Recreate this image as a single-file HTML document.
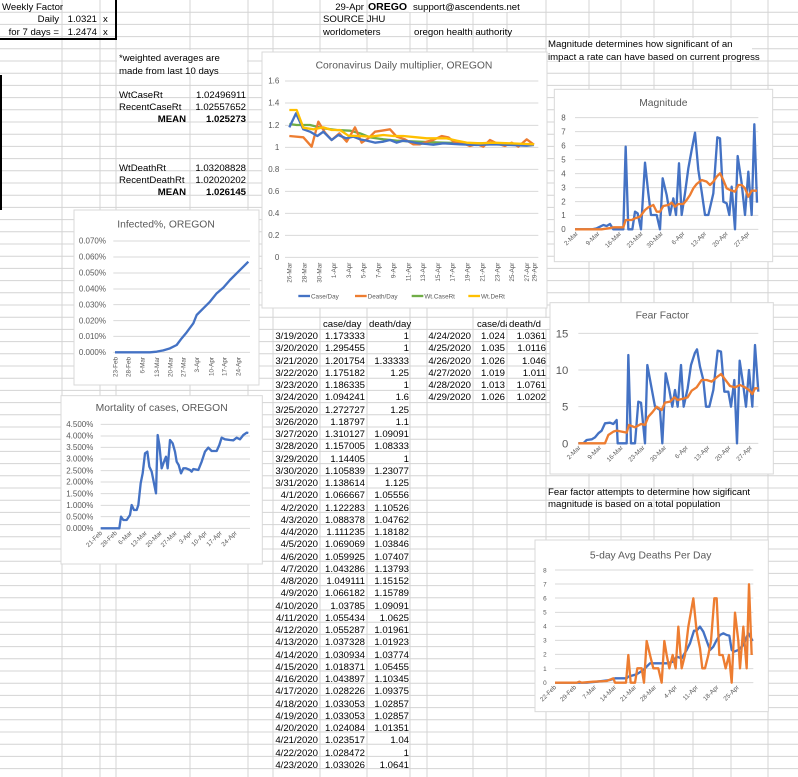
<!DOCTYPE html>
<html><head><meta charset="utf-8"><style>
html,body{margin:0;padding:0;background:#fff;}
svg{display:block;font-family:"Liberation Sans",sans-serif;}
.c{font-size:9.6px;fill:#000;}
.b{font-weight:bold;}
.ax{fill:#595959;font-size:24px;}
.tk{fill:#595959;font-size:19px;}
.tt{fill:#595959;font-size:31px;}
.gl{stroke:#d9d9d9;stroke-width:3;}
.ln{fill:none;stroke-width:7;stroke-linejoin:round;}
.bl{stroke:#4472c4;}.or{stroke:#ed7d31;}.gr{stroke:#70ad47;}.ye{stroke:#ffc000;}
</style></head><body>
<svg width="798" height="777" viewBox="0 0 798 777" xmlns="http://www.w3.org/2000/svg">
<rect width="798" height="777" fill="#fff"/>
<g stroke="#d4d4d4" stroke-width="1">
<path d="M62 0V777M100 0V777M116 0V777M190 0V777M248 0V777M273 0V777M320 0V777M367 0V777M410 0V777M427 0V777M473 0V777M507 0V777M546 0V777M589 0V777M621 0V777M654 0V777M693 0V777M731 0V777M768 0V777"/>
<path d="M0 12.2H798M0 24.4H798M0 36.6H798M0 48.8H798M0 61H798M0 73.2H798M0 85.4H798M0 97.6H798M0 109.8H798M0 122H798M0 134.2H798M0 146.4H798M0 158.6H798M0 170.8H798M0 183H798M0 195.2H798M0 207.4H798M0 219.6H798M0 231.8H798M0 244H798M0 256.2H798M0 268.4H798M0 280.6H798M0 292.8H798M0 305H798M0 317.2H798M0 329.4H798M0 341.6H798M0 353.8H798M0 366H798M0 378.2H798M0 390.4H798M0 402.6H798M0 414.8H798M0 427H798M0 439.2H798M0 451.4H798M0 463.6H798M0 475.8H798M0 488H798M0 500.2H798M0 512.4H798M0 524.6H798M0 536.8H798M0 549H798M0 561.2H798M0 573.4H798M0 585.6H798M0 597.8H798M0 610H798M0 622.2H798M0 634.4H798M0 646.6H798M0 658.8H798M0 671H798M0 683.2H798M0 695.4H798M0 707.6H798M0 719.8H798M0 732H798M0 744.2H798M0 756.4H798M0 768.6H798"/>
</g>
<path d="M0 39H116V0" fill="none" stroke="#000" stroke-width="2"/>
<path d="M1 75V210" stroke="#000" stroke-width="2"/>
<g class="c">
<text x="2" y="10">Weekly Factor</text>
<text x="59" y="22" text-anchor="end">Daily</text><text x="97" y="22" text-anchor="end">1.0321</text><text x="103" y="22">x</text>
<text x="59" y="35" text-anchor="end">for 7 days =</text><text x="97" y="35" text-anchor="end">1.2474</text><text x="103" y="35">x</text>
<text x="364" y="10" text-anchor="end">29-Apr</text><text x="368" y="10" class="b" font-size="10.5">OREGO</text>
<rect x="409" y="0" width="100" height="12" fill="#fff"/>
<text x="413" y="10">support@ascendents.net</text>
<text x="323" y="22">SOURCE JHU</text>
<text x="323" y="35">worldometers</text><text x="414" y="35">oregon health authority</text>
<rect x="547" y="38" width="205" height="23" fill="#fff"/>
<text x="548" y="47">Magnitude determines how significant of an</text>
<text x="548" y="60">impact a rate can have based on current progress</text>
<rect x="117" y="50" width="130" height="23" fill="#fff"/>
<text x="119" y="61">*weighted averages are</text>
<text x="119" y="74">made from last 10 days</text>
<text x="119" y="98">WtCaseRt</text><text x="246" y="98" text-anchor="end">1.02496911</text>
<text x="119" y="110">RecentCaseRt</text><text x="246" y="110" text-anchor="end">1.02557652</text>
<text x="186" y="122" text-anchor="end" class="b">MEAN</text><text x="246" y="122" text-anchor="end" class="b">1.025273</text>
<text x="119" y="171">WtDeathRt</text><text x="246" y="171" text-anchor="end">1.03208828</text>
<text x="119" y="183">RecentDeathRt</text><text x="246" y="183" text-anchor="end">1.02020202</text>
<text x="186" y="195" text-anchor="end" class="b">MEAN</text><text x="246" y="195" text-anchor="end" class="b">1.026145</text>
<text x="323" y="327">case/day</text><text x="369" y="327">death/day</text>
<text x="477" y="327">case/da</text><rect x="507" y="318" width="40" height="11" fill="#fff"/><text x="509" y="327">death/d</text>
</g>
<g class="c">
<g text-anchor="end">
<text x="318" y="339">3/19/2020</text><text x="365" y="339">1.173333</text><text x="409" y="339">1</text>
<text x="318" y="351">3/20/2020</text><text x="365" y="351">1.295455</text><text x="409" y="351">1</text>
<text x="318" y="364">3/21/2020</text><text x="365" y="364">1.201754</text><text x="409" y="364">1.33333</text>
<text x="318" y="376">3/22/2020</text><text x="365" y="376">1.175182</text><text x="409" y="376">1.25</text>
<text x="318" y="388">3/23/2020</text><text x="365" y="388">1.186335</text><text x="409" y="388">1</text>
<text x="318" y="400">3/24/2020</text><text x="365" y="400">1.094241</text><text x="409" y="400">1.6</text>
<text x="318" y="413">3/25/2020</text><text x="365" y="413">1.272727</text><text x="409" y="413">1.25</text>
<text x="318" y="425">3/26/2020</text><text x="365" y="425">1.18797</text><text x="409" y="425">1.1</text>
<text x="318" y="437">3/27/2020</text><text x="365" y="437">1.310127</text><text x="409" y="437">1.09091</text>
<text x="318" y="449">3/28/2020</text><text x="365" y="449">1.157005</text><text x="409" y="449">1.08333</text>
<text x="318" y="462">3/29/2020</text><text x="365" y="462">1.14405</text><text x="409" y="462">1</text>
<text x="318" y="474">3/30/2020</text><text x="365" y="474">1.105839</text><text x="409" y="474">1.23077</text>
<text x="318" y="486">3/31/2020</text><text x="365" y="486">1.138614</text><text x="409" y="486">1.125</text>
<text x="318" y="498">4/1/2020</text><text x="365" y="498">1.066667</text><text x="409" y="498">1.05556</text>
<text x="318" y="511">4/2/2020</text><text x="365" y="511">1.122283</text><text x="409" y="511">1.10526</text>
<text x="318" y="523">4/3/2020</text><text x="365" y="523">1.088378</text><text x="409" y="523">1.04762</text>
<text x="318" y="535">4/4/2020</text><text x="365" y="535">1.111235</text><text x="409" y="535">1.18182</text>
<text x="318" y="547">4/5/2020</text><text x="365" y="547">1.069069</text><text x="409" y="547">1.03846</text>
<text x="318" y="560">4/6/2020</text><text x="365" y="560">1.059925</text><text x="409" y="560">1.07407</text>
<text x="318" y="572">4/7/2020</text><text x="365" y="572">1.043286</text><text x="409" y="572">1.13793</text>
<text x="318" y="584">4/8/2020</text><text x="365" y="584">1.049111</text><text x="409" y="584">1.15152</text>
<text x="318" y="596">4/9/2020</text><text x="365" y="596">1.066182</text><text x="409" y="596">1.15789</text>
<text x="318" y="609">4/10/2020</text><text x="365" y="609">1.03785</text><text x="409" y="609">1.09091</text>
<text x="318" y="621">4/11/2020</text><text x="365" y="621">1.055434</text><text x="409" y="621">1.0625</text>
<text x="318" y="633">4/12/2020</text><text x="365" y="633">1.055287</text><text x="409" y="633">1.01961</text>
<text x="318" y="645">4/13/2020</text><text x="365" y="645">1.037328</text><text x="409" y="645">1.01923</text>
<text x="318" y="658">4/14/2020</text><text x="365" y="658">1.030934</text><text x="409" y="658">1.03774</text>
<text x="318" y="670">4/15/2020</text><text x="365" y="670">1.018371</text><text x="409" y="670">1.05455</text>
<text x="318" y="682">4/16/2020</text><text x="365" y="682">1.043897</text><text x="409" y="682">1.10345</text>
<text x="318" y="694">4/17/2020</text><text x="365" y="694">1.028226</text><text x="409" y="694">1.09375</text>
<text x="318" y="707">4/18/2020</text><text x="365" y="707">1.033053</text><text x="409" y="707">1.02857</text>
<text x="318" y="719">4/19/2020</text><text x="365" y="719">1.033053</text><text x="409" y="719">1.02857</text>
<text x="318" y="731">4/20/2020</text><text x="365" y="731">1.024084</text><text x="409" y="731">1.01351</text>
<text x="318" y="743">4/21/2020</text><text x="365" y="743">1.023517</text><text x="409" y="743">1.04</text>
<text x="318" y="756">4/22/2020</text><text x="365" y="756">1.028472</text><text x="409" y="756">1</text>
<text x="318" y="768">4/23/2020</text><text x="365" y="768">1.033026</text><text x="409" y="768">1.0641</text>
<text x="471" y="339">4/24/2020</text><text x="505" y="339">1.024</text><text x="546" y="339">1.0361</text>
<text x="471" y="351">4/25/2020</text><text x="505" y="351">1.035</text><text x="546" y="351">1.0116</text>
<text x="471" y="364">4/26/2020</text><text x="505" y="364">1.026</text><text x="546" y="364">1.046</text>
<text x="471" y="376">4/27/2020</text><text x="505" y="376">1.019</text><text x="546" y="376">1.011</text>
<text x="471" y="388">4/28/2020</text><text x="505" y="388">1.013</text><text x="546" y="388">1.0761</text>
<text x="471" y="400">4/29/2020</text><text x="505" y="400">1.026</text><text x="546" y="400">1.0202</text>
</g>
</g>
<text x="548" y="495" class="c">Fear factor attempts to determine how sigificant</text>
<text x="548" y="507" class="c">magnitude is based on a total population</text>

<g transform="translate(260,50) scale(0.33333)">
<rect x="6" y="6" width="855" height="768" fill="#fff" stroke="#d9d9d9" stroke-width="3"/>
<text x="432" y="55" text-anchor="middle" class="tt">Coronavirus Daily multiplier, OREGON</text>
<g class="gl"><path d="M75 93H835M75 159H835M75 226H835M75 292H835M75 358H835M75 424H835M75 490H835M75 556H835M75 622H835"/></g>
<g class="ax" text-anchor="end"><text x="58" y="101">1.6</text><text x="58" y="167">1.4</text><text x="58" y="234">1.2</text><text x="58" y="300">1</text><text x="58" y="366">0.8</text><text x="58" y="432">0.6</text><text x="58" y="498">0.4</text><text x="58" y="564">0.2</text><text x="58" y="630">0</text></g>
<g class="tk" text-anchor="end">
<text transform="translate(95,638) rotate(-90)">26-Mar</text><text transform="translate(139,638) rotate(-90)">28-Mar</text><text transform="translate(184,638) rotate(-90)">30-Mar</text><text transform="translate(228,638) rotate(-90)">1-Apr</text><text transform="translate(273,638) rotate(-90)">3-Apr</text><text transform="translate(317,638) rotate(-90)">5-Apr</text><text transform="translate(362,638) rotate(-90)">7-Apr</text><text transform="translate(406,638) rotate(-90)">9-Apr</text><text transform="translate(451,638) rotate(-90)">11-Apr</text><text transform="translate(495,638) rotate(-90)">13-Apr</text><text transform="translate(540,638) rotate(-90)">15-Apr</text><text transform="translate(584,638) rotate(-90)">17-Apr</text><text transform="translate(629,638) rotate(-90)">19-Apr</text><text transform="translate(673,638) rotate(-90)">21-Apr</text><text transform="translate(718,638) rotate(-90)">23-Apr</text><text transform="translate(762,638) rotate(-90)">25-Apr</text><text transform="translate(807,638) rotate(-90)">27-Apr</text><text transform="translate(829,638) rotate(-90)">29-Apr</text>
</g>
<polyline class="ln gr" points="88,222 110,225 150,225 190,235 230,240 270,242 300,250 330,262 370,268 410,272 450,274 500,276 550,278 600,279 650,280 700,281 750,282 822,284"/>
<polyline class="ln or" points="88,258 130,262 155,290 175,215 195,248 215,270 238,250 260,275 285,232 305,278 325,265 345,245 365,242 390,238 410,260 435,268 460,283 480,283 500,275 520,270 545,258 565,262 585,278 610,280 630,288 650,282 670,290 690,270 710,280 735,288 755,278 775,290 800,268 822,284"/>
<polyline class="ln bl" points="88,232 108,190 130,238 150,245 172,258 190,245 215,270 235,255 258,265 280,260 300,268 320,272 345,278 370,275 390,270 410,278 430,272 450,275 475,280 500,282 520,284 550,280 600,283 650,285 700,283 750,285 800,287 822,285"/>
<polyline class="ln ye" points="88,180 110,180 130,233 160,238 190,232 215,240 240,240 265,257 300,258 330,260 370,255 400,258 430,258 470,262 500,265 530,265 560,265 590,272 620,278 660,280 700,278 750,280 800,282 822,283"/>
<g class="tk">
<path d="M115 738H150" class="ln bl"/><text x="153" y="745">Case/Day</text>
<path d="M285 738H320" class="ln or"/><text x="323" y="745">Death/Day</text>
<path d="M455 738H490" class="ln gr"/><text x="493" y="745">Wt.CaseRt</text>
<path d="M625 738H660" class="ln ye"/><text x="663" y="745">Wt.DeRt</text>
</g>
</g>

<g transform="translate(60,205) scale(0.33333)">
<rect x="42" y="15" width="555" height="525" fill="#fff" stroke="#d9d9d9" stroke-width="3"/>
<text x="318" y="68" text-anchor="middle" class="tt">Infected%, OREGON</text>
<g class="gl"><path d="M160 108H570M160 156H570M160 204H570M160 252H570M160 299H570M160 347H570M160 394H570M160 442H570"/></g>
<g class="ax" text-anchor="end"><text x="138" y="116">0.070%</text><text x="138" y="164">0.060%</text><text x="138" y="212">0.050%</text><text x="138" y="260">0.040%</text><text x="138" y="307">0.030%</text><text x="138" y="355">0.020%</text><text x="138" y="402">0.010%</text><text x="138" y="450">0.000%</text></g>
<g class="tk" text-anchor="end">
<text transform="translate(172,456) rotate(-90)">23-Feb</text><text transform="translate(212,456) rotate(-90)">28-Feb</text><text transform="translate(254,456) rotate(-90)">6-Mar</text><text transform="translate(297,456) rotate(-90)">13-Mar</text><text transform="translate(337,456) rotate(-90)">20-Mar</text><text transform="translate(377,456) rotate(-90)">27-Mar</text><text transform="translate(417,456) rotate(-90)">3-Apr</text><text transform="translate(460,456) rotate(-90)">10-Apr</text><text transform="translate(500,456) rotate(-90)">17-Apr</text><text transform="translate(542,456) rotate(-90)">24-Apr</text>
</g>
<polyline class="ln bl" points="165,442 270,442 290,440 310,436 330,430 350,420 365,400 380,382 400,355 410,330 430,310 450,290 470,265 490,248 510,225 530,205 550,185 565,170"/>
</g>

<g transform="translate(60,205) scale(0.33333)">
<rect x="3" y="572" width="604" height="505" fill="#fff" stroke="#d9d9d9" stroke-width="3"/>
<text x="305" y="618" text-anchor="middle" class="tt">Mortality of cases, OREGON</text>
<g class="gl"><path d="M122 658H570M122 693H570M122 727H570M122 762H570M122 797H570M122 831H570M122 866H570M122 901H570M122 935H570M122 970H570"/></g>
<g class="ax" text-anchor="end"><text x="100" y="666">4.500%</text><text x="100" y="701">4.000%</text><text x="100" y="735">3.500%</text><text x="100" y="770">3.000%</text><text x="100" y="805">2.500%</text><text x="100" y="839">2.000%</text><text x="100" y="874">1.500%</text><text x="100" y="909">1.000%</text><text x="100" y="943">0.500%</text><text x="100" y="978">0.000%</text></g>
<g class="tk" text-anchor="end">
<text transform="translate(128,985) rotate(-45)">21-Feb</text><text transform="translate(172,985) rotate(-45)">28-Feb</text><text transform="translate(217,985) rotate(-45)">6-Mar</text><text transform="translate(262,985) rotate(-45)">13-Mar</text><text transform="translate(307,985) rotate(-45)">20-Mar</text><text transform="translate(352,985) rotate(-45)">27-Mar</text><text transform="translate(397,985) rotate(-45)">3-Apr</text><text transform="translate(442,985) rotate(-45)">10-Apr</text><text transform="translate(487,985) rotate(-45)">17-Apr</text><text transform="translate(532,985) rotate(-45)">24-Apr</text>
</g>
<polyline class="ln bl" points="122,970 178,970 183,935 190,945 200,945 210,930 215,900 222,915 230,915 235,900 242,835 248,805 255,745 262,740 268,785 275,800 283,840 288,865 293,690 298,720 305,790 312,770 318,755 323,790 330,705 338,715 345,740 350,770 356,780 363,805 370,790 378,790 390,795 395,800 400,792 415,795 425,770 435,740 445,728 455,738 470,738 478,720 485,698 495,703 510,705 520,706 530,698 540,703 550,690 560,683 565,684"/>
</g>

<g transform="translate(545,80) scale(0.33333)">
<rect x="28" y="28" width="655" height="517" fill="#fff" stroke="#d9d9d9" stroke-width="3"/>
<text x="355" y="78" text-anchor="middle" class="tt">Magnitude</text>
<g class="gl"><path d="M90 113H640M90 155H640M90 197H640M90 239H640M90 281H640M90 323H640M90 365H640M90 406H640M90 448H640"/></g>
<g class="ax" text-anchor="end"><text x="62" y="121">8</text><text x="62" y="163">7</text><text x="62" y="205">6</text><text x="62" y="247">5</text><text x="62" y="289">4</text><text x="62" y="331">3</text><text x="62" y="373">2</text><text x="62" y="414">1</text><text x="62" y="456">0</text></g>
<g class="tk" text-anchor="end">
<text transform="translate(100,462) rotate(-45)">2-Mar</text><text transform="translate(165,462) rotate(-45)">9-Mar</text><text transform="translate(230,462) rotate(-45)">16-Mar</text><text transform="translate(295,462) rotate(-45)">23-Mar</text><text transform="translate(355,462) rotate(-45)">30-Mar</text><text transform="translate(420,462) rotate(-45)">6-Apr</text><text transform="translate(485,462) rotate(-45)">13-Apr</text><text transform="translate(550,462) rotate(-45)">20-Apr</text><text transform="translate(615,462) rotate(-45)">27-Apr</text>
</g>
<polyline class="ln bl" points="90,448 140,448 155,445 165,440 175,435 185,438 195,432 205,448 235,448 242,200 250,448 262,448 270,395 278,400 288,448 300,248 310,340 318,405 335,405 345,448 353,295 365,345 375,405 385,355 393,405 402,250 410,405 420,340 430,265 440,210 450,158 460,270 470,335 480,405 490,405 505,340 517,172 525,175 535,365 545,370 553,405 560,320 570,448 578,228 590,310 600,405 610,275 620,405 628,133 636,368"/>
<polyline class="ln or" points="90,448 170,448 190,445 205,442 235,442 242,420 260,420 270,415 285,410 300,390 310,382 325,375 335,395 345,395 355,378 370,375 380,368 390,380 400,372 415,372 425,360 435,345 445,325 455,312 470,300 485,305 495,315 505,305 515,290 525,280 535,300 545,325 555,330 570,335 580,315 590,315 600,325 610,350 620,332 636,332"/>
</g>

<g transform="translate(545,300) scale(0.33333)">
<rect x="15" y="8" width="670" height="514" fill="#fff" stroke="#d9d9d9" stroke-width="3"/>
<text x="352" y="56" text-anchor="middle" class="tt">Fear Factor</text>
<g class="gl"><path d="M100 100H640M100 210H640M100 320H640M100 430H640"/></g>
<g class="ax" text-anchor="end"><text x="70" y="112" font-size="34">15</text><text x="70" y="222" font-size="34">10</text><text x="70" y="332" font-size="34">5</text><text x="70" y="442" font-size="34">0</text></g>
<g class="tk" text-anchor="end">
<text transform="translate(108,444) rotate(-45)">2-Mar</text><text transform="translate(170,444) rotate(-45)">9-Mar</text><text transform="translate(235,444) rotate(-45)">16-Mar</text><text transform="translate(300,444) rotate(-45)">23-Mar</text><text transform="translate(365,444) rotate(-45)">30-Mar</text><text transform="translate(430,444) rotate(-45)">6-Apr</text><text transform="translate(495,444) rotate(-45)">13-Apr</text><text transform="translate(558,444) rotate(-45)">20-Apr</text><text transform="translate(622,444) rotate(-45)">27-Apr</text>
</g>
<polyline class="ln bl" points="100,430 115,430 125,420 140,418 150,412 160,400 170,392 180,370 195,368 205,372 215,360 218,430 245,430 250,165 258,430 270,430 280,305 288,308 300,430 307,195 318,255 330,320 345,330 352,430 362,220 372,265 382,320 390,270 398,320 408,195 416,320 428,265 438,195 450,158 456,148 465,200 475,240 483,320 493,320 505,270 518,152 528,155 538,275 550,275 558,320 568,240 576,430 584,182 594,250 603,320 612,210 622,320 630,135 640,275"/>
<polyline class="ln or" points="100,430 180,430 190,405 205,395 215,392 230,395 245,398 252,375 270,382 288,372 300,375 310,350 322,337 335,320 350,330 360,308 375,305 388,292 398,300 415,296 428,292 440,272 455,262 470,240 485,240 500,245 515,232 528,222 540,238 555,258 570,262 585,255 600,262 612,270 622,282 630,265 640,265"/>
</g>

<g transform="translate(530,535) scale(0.33333)">
<rect x="15" y="15" width="700" height="515" fill="#fff" stroke="#d9d9d9" stroke-width="3"/>
<text x="362" y="70" text-anchor="middle" class="tt">5-day Avg Deaths Per Day</text>
<g class="gl"><path d="M75 105H670M75 147H670M75 189H670M75 232H670M75 274H670M75 316H670M75 358H670M75 401H670M75 443H670"/></g>
<g class="tk" text-anchor="end"><text x="50" y="112">8</text><text x="50" y="154">7</text><text x="50" y="196">6</text><text x="50" y="239">5</text><text x="50" y="281">4</text><text x="50" y="323">3</text><text x="50" y="365">2</text><text x="50" y="408">1</text><text x="50" y="450">0</text></g>
<g class="tk" text-anchor="end">
<text transform="translate(80,458) rotate(-45)">22-Feb</text><text transform="translate(140,458) rotate(-45)">29-Feb</text><text transform="translate(200,458) rotate(-45)">7-Mar</text><text transform="translate(260,458) rotate(-45)">14-Mar</text><text transform="translate(320,458) rotate(-45)">21-Mar</text><text transform="translate(380,458) rotate(-45)">28-Mar</text><text transform="translate(442,458) rotate(-45)">4-Apr</text><text transform="translate(505,458) rotate(-45)">11-Apr</text><text transform="translate(567,458) rotate(-45)">18-Apr</text><text transform="translate(628,458) rotate(-45)">25-Apr</text>
</g>
<polyline class="ln bl" points="75,443 170,443 200,440 240,435 255,430 290,430 295,425 320,418 340,405 360,385 375,385 410,385 430,380 440,365 455,370 470,345 480,325 492,287 500,287 510,275 520,290 540,345 550,335 560,315 570,300 580,295 590,300 598,302 605,345 612,350 625,345 640,330 655,295 668,318"/>
<polyline class="ln or" points="75,443 140,443 148,440 155,443 190,440 230,438 250,430 255,443 288,443 295,360 302,443 315,443 322,400 335,400 342,443 350,318 360,360 370,400 385,400 395,443 403,318 410,360 418,400 428,360 437,400 445,275 455,400 465,360 475,275 490,190 500,290 510,340 517,400 525,400 535,360 543,318 553,190 560,190 568,360 578,360 587,400 597,360 605,443 615,233 625,318 630,400 640,275 650,400 657,148 665,360"/>
</g>
</svg>
</body></html>
